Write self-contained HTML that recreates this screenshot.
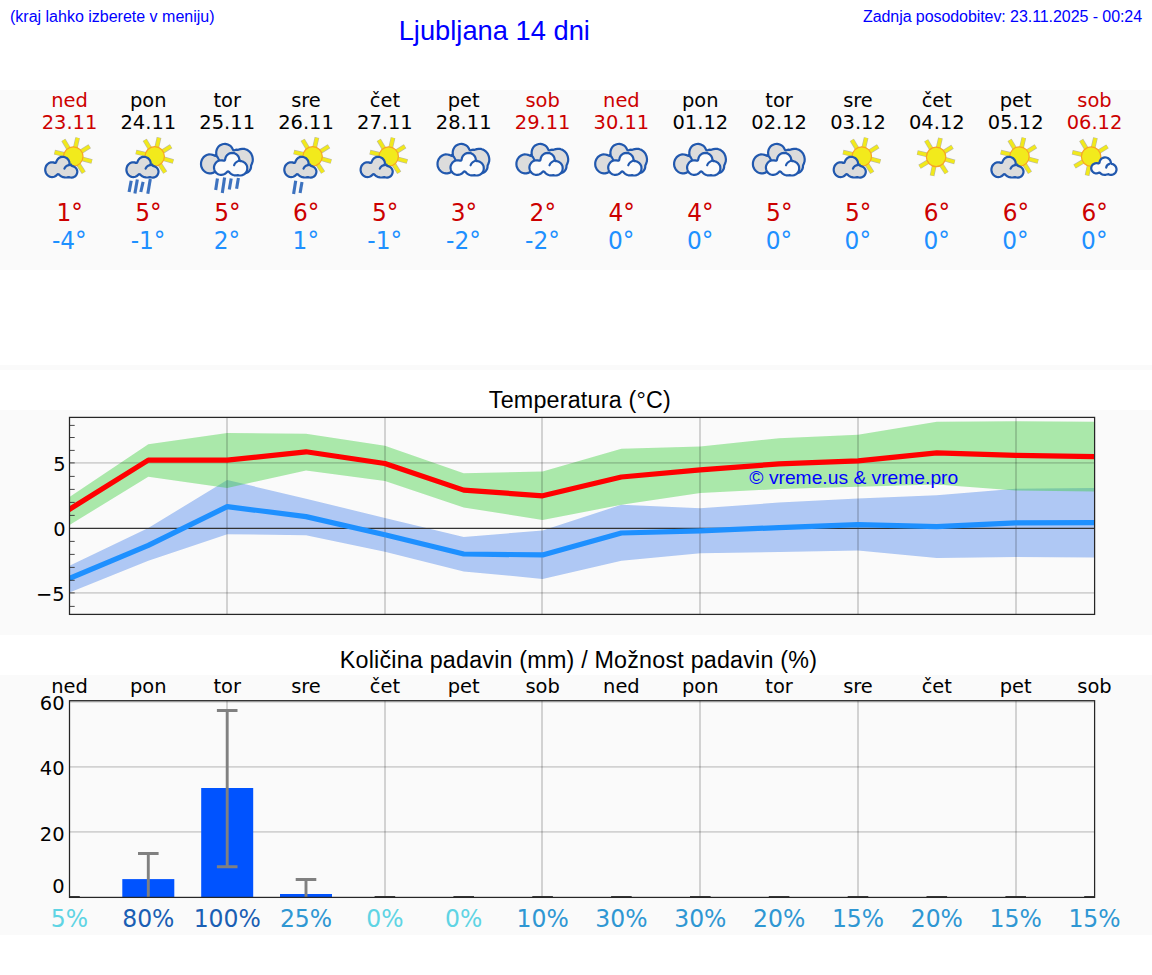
<!DOCTYPE html>
<html lang="sl"><head><meta charset="utf-8"><title>Ljubljana 14 dni</title>
<style>
html,body{margin:0;padding:0;background:#fff;}
body{width:1152px;height:975px;overflow:hidden;position:relative;}
svg{position:absolute;left:0;top:0;display:block;}
.dj{font-family:'DejaVu Sans','Liberation Sans',sans-serif;}
.ls{font-family:'Liberation Sans',sans-serif;}
.m{text-anchor:middle;}
.e{text-anchor:end;}
</style></head><body>
<svg width="1152" height="975" viewBox="0 0 1152 975">
<defs>
<g id="i-sun"><g transform="translate(29.3,21.9)"><line x1="7.21" y1="-4.50" x2="16.37" y2="-10.23" stroke="#7d7946" stroke-opacity="0.5" stroke-width="4.7"/><line x1="1.91" y1="-8.28" x2="4.34" y2="-18.81" stroke="#7d7946" stroke-opacity="0.5" stroke-width="4.7"/><line x1="-4.38" y1="-7.29" x2="-9.94" y2="-16.54" stroke="#7d7946" stroke-opacity="0.5" stroke-width="4.7"/><line x1="-8.28" y1="-1.91" x2="-18.81" y2="-4.34" stroke="#7d7946" stroke-opacity="0.5" stroke-width="4.7"/><line x1="-7.29" y1="4.38" x2="-16.54" y2="9.94" stroke="#7d7946" stroke-opacity="0.5" stroke-width="4.7"/><line x1="-1.77" y1="8.31" x2="-4.01" y2="18.88" stroke="#7d7946" stroke-opacity="0.5" stroke-width="4.7"/><line x1="4.63" y1="7.13" x2="10.51" y2="16.19" stroke="#7d7946" stroke-opacity="0.5" stroke-width="4.7"/><line x1="8.21" y1="2.20" x2="18.64" y2="5.00" stroke="#7d7946" stroke-opacity="0.5" stroke-width="4.7"/><line x1="7.21" y1="-4.50" x2="16.11" y2="-10.07" stroke="#f1e91b" stroke-width="3.4"/><line x1="1.91" y1="-8.28" x2="4.27" y2="-18.51" stroke="#f1e91b" stroke-width="3.4"/><line x1="-4.38" y1="-7.29" x2="-9.79" y2="-16.29" stroke="#f1e91b" stroke-width="3.4"/><line x1="-8.28" y1="-1.91" x2="-18.51" y2="-4.27" stroke="#f1e91b" stroke-width="3.4"/><line x1="-7.29" y1="4.38" x2="-16.29" y2="9.79" stroke="#f1e91b" stroke-width="3.4"/><line x1="-1.77" y1="8.31" x2="-3.95" y2="18.58" stroke="#f1e91b" stroke-width="3.4"/><line x1="4.63" y1="7.13" x2="10.35" y2="15.93" stroke="#f1e91b" stroke-width="3.4"/><line x1="8.21" y1="2.20" x2="18.35" y2="4.92" stroke="#f1e91b" stroke-width="3.4"/><circle cx="0" cy="0" r="9.7" fill="#f2ea1c" stroke="#f7a524" stroke-width="1.2"/></g></g>
<g id="i-pc"><g transform="translate(33.8,21.5)"><line x1="7.21" y1="-4.50" x2="16.37" y2="-10.23" stroke="#7d7946" stroke-opacity="0.5" stroke-width="4.7"/><line x1="1.91" y1="-8.28" x2="4.34" y2="-18.81" stroke="#7d7946" stroke-opacity="0.5" stroke-width="4.7"/><line x1="-4.38" y1="-7.29" x2="-9.94" y2="-16.54" stroke="#7d7946" stroke-opacity="0.5" stroke-width="4.7"/><line x1="-8.28" y1="-1.91" x2="-18.81" y2="-4.34" stroke="#7d7946" stroke-opacity="0.5" stroke-width="4.7"/><line x1="-7.29" y1="4.38" x2="-16.54" y2="9.94" stroke="#7d7946" stroke-opacity="0.5" stroke-width="4.7"/><line x1="-1.77" y1="8.31" x2="-4.01" y2="18.88" stroke="#7d7946" stroke-opacity="0.5" stroke-width="4.7"/><line x1="4.63" y1="7.13" x2="10.51" y2="16.19" stroke="#7d7946" stroke-opacity="0.5" stroke-width="4.7"/><line x1="8.21" y1="2.20" x2="18.64" y2="5.00" stroke="#7d7946" stroke-opacity="0.5" stroke-width="4.7"/><line x1="7.21" y1="-4.50" x2="16.11" y2="-10.07" stroke="#f1e91b" stroke-width="3.4"/><line x1="1.91" y1="-8.28" x2="4.27" y2="-18.51" stroke="#f1e91b" stroke-width="3.4"/><line x1="-4.38" y1="-7.29" x2="-9.79" y2="-16.29" stroke="#f1e91b" stroke-width="3.4"/><line x1="-8.28" y1="-1.91" x2="-18.51" y2="-4.27" stroke="#f1e91b" stroke-width="3.4"/><line x1="-7.29" y1="4.38" x2="-16.29" y2="9.79" stroke="#f1e91b" stroke-width="3.4"/><line x1="-1.77" y1="8.31" x2="-3.95" y2="18.58" stroke="#f1e91b" stroke-width="3.4"/><line x1="4.63" y1="7.13" x2="10.35" y2="15.93" stroke="#f1e91b" stroke-width="3.4"/><line x1="8.21" y1="2.20" x2="18.35" y2="4.92" stroke="#f1e91b" stroke-width="3.4"/><circle cx="0" cy="0" r="9.7" fill="#f2ea1c" stroke="#f7a524" stroke-width="1.2"/></g><g transform="translate(0,0)"><path d="M16.8 26.9 16.4 27.6 16.1 27.8 15.6 27.9 15.1 27.9 13.8 27.4 12.7 27.3 11.4 27.4 10.1 27.8 9.1 28.3 8.2 29.0 7.3 30.0 6.6 31.0 6.1 32.3 5.8 33.7 5.7 35.0 5.9 36.4 6.3 37.8 7.0 39.0 7.9 40.1 9.0 41.0 10.1 41.6 11.2 42.0 12.5 42.1 13.6 42.0 14.7 41.7 15.7 41.3 16.8 40.5 17.8 39.4 18.2 39.2 18.7 39.2 19.3 39.4 20.4 40.4 21.6 41.3 22.7 41.9 23.8 42.2 25.1 42.4 26.5 42.5 27.6 42.4 29.4 42.1 30.9 42.5 32.2 42.6 33.5 42.4 34.9 41.8 36.0 41.0 36.8 40.0 37.5 38.5 37.8 37.0 37.8 36.2 37.6 35.3 37.0 33.9 36.2 32.8 35.2 32.0 34.0 31.4 32.3 30.9 30.4 29.6 30.0 29.0 29.9 27.2 29.3 25.5 28.3 24.1 27.0 22.9 25.5 22.2 24.0 21.8 22.4 21.9 20.9 22.2 19.4 23.0 18.3 24.1 17.4 25.4Z" fill="#dcdcdc" stroke="#2158ae" stroke-width="2.2" stroke-linejoin="round"/><path d="M31.6 29.6 C28.6 29.9 25.6 31.6 24.9 33.7" fill="none" stroke="#2158ae" stroke-width="2.2" stroke-linecap="round"/></g></g>
<g id="i-pcr"><g transform="translate(36.4,21.4)"><line x1="7.21" y1="-4.50" x2="16.37" y2="-10.23" stroke="#7d7946" stroke-opacity="0.5" stroke-width="4.7"/><line x1="1.91" y1="-8.28" x2="4.34" y2="-18.81" stroke="#7d7946" stroke-opacity="0.5" stroke-width="4.7"/><line x1="-4.38" y1="-7.29" x2="-9.94" y2="-16.54" stroke="#7d7946" stroke-opacity="0.5" stroke-width="4.7"/><line x1="-8.28" y1="-1.91" x2="-18.81" y2="-4.34" stroke="#7d7946" stroke-opacity="0.5" stroke-width="4.7"/><line x1="-7.29" y1="4.38" x2="-16.54" y2="9.94" stroke="#7d7946" stroke-opacity="0.5" stroke-width="4.7"/><line x1="-1.77" y1="8.31" x2="-4.01" y2="18.88" stroke="#7d7946" stroke-opacity="0.5" stroke-width="4.7"/><line x1="4.63" y1="7.13" x2="10.51" y2="16.19" stroke="#7d7946" stroke-opacity="0.5" stroke-width="4.7"/><line x1="8.21" y1="2.20" x2="18.64" y2="5.00" stroke="#7d7946" stroke-opacity="0.5" stroke-width="4.7"/><line x1="7.21" y1="-4.50" x2="16.11" y2="-10.07" stroke="#f1e91b" stroke-width="3.4"/><line x1="1.91" y1="-8.28" x2="4.27" y2="-18.51" stroke="#f1e91b" stroke-width="3.4"/><line x1="-4.38" y1="-7.29" x2="-9.79" y2="-16.29" stroke="#f1e91b" stroke-width="3.4"/><line x1="-8.28" y1="-1.91" x2="-18.51" y2="-4.27" stroke="#f1e91b" stroke-width="3.4"/><line x1="-7.29" y1="4.38" x2="-16.29" y2="9.79" stroke="#f1e91b" stroke-width="3.4"/><line x1="-1.77" y1="8.31" x2="-3.95" y2="18.58" stroke="#f1e91b" stroke-width="3.4"/><line x1="4.63" y1="7.13" x2="10.35" y2="15.93" stroke="#f1e91b" stroke-width="3.4"/><line x1="8.21" y1="2.20" x2="18.35" y2="4.92" stroke="#f1e91b" stroke-width="3.4"/><circle cx="0" cy="0" r="9.7" fill="#f2ea1c" stroke="#f7a524" stroke-width="1.2"/></g><g transform="translate(2.4,0)"><path d="M16.8 26.9 16.4 27.6 16.1 27.8 15.6 27.9 15.1 27.9 13.8 27.4 12.7 27.3 11.4 27.4 10.1 27.8 9.1 28.3 8.2 29.0 7.3 30.0 6.6 31.0 6.1 32.3 5.8 33.7 5.7 35.0 5.9 36.4 6.3 37.8 7.0 39.0 7.9 40.1 9.0 41.0 10.1 41.6 11.2 42.0 12.5 42.1 13.6 42.0 14.7 41.7 15.7 41.3 16.8 40.5 17.8 39.4 18.2 39.2 18.7 39.2 19.3 39.4 20.4 40.4 21.6 41.3 22.7 41.9 23.8 42.2 25.1 42.4 26.5 42.5 27.6 42.4 29.4 42.1 30.9 42.5 32.2 42.6 33.5 42.4 34.9 41.8 36.0 41.0 36.8 40.0 37.5 38.5 37.8 37.0 37.8 36.2 37.6 35.3 37.0 33.9 36.2 32.8 35.2 32.0 34.0 31.4 32.3 30.9 30.4 29.6 30.0 29.0 29.9 27.2 29.3 25.5 28.3 24.1 27.0 22.9 25.5 22.2 24.0 21.8 22.4 21.9 20.9 22.2 19.4 23.0 18.3 24.1 17.4 25.4Z" fill="#dcdcdc" stroke="#2158ae" stroke-width="2.2" stroke-linejoin="round"/><path d="M31.6 29.6 C28.6 29.9 25.6 31.6 24.9 33.7" fill="none" stroke="#2158ae" stroke-width="2.2" stroke-linecap="round"/></g><line x1="12.9" y1="45.8" x2="10.8" y2="57.0" stroke="#3d72bf" stroke-width="3.1"/><line x1="19.05" y1="44.4" x2="16.6" y2="58.4" stroke="#3d72bf" stroke-width="3.1"/><line x1="24.8" y1="46.9" x2="22.5" y2="57.0" stroke="#3d72bf" stroke-width="3.1"/><line x1="32.0" y1="43.9" x2="29.5" y2="58.7" stroke="#3d72bf" stroke-width="3.1"/></g>
<g id="i-pcr1"><g transform="translate(36.6,21.4)"><line x1="7.21" y1="-4.50" x2="16.37" y2="-10.23" stroke="#7d7946" stroke-opacity="0.5" stroke-width="4.7"/><line x1="1.91" y1="-8.28" x2="4.34" y2="-18.81" stroke="#7d7946" stroke-opacity="0.5" stroke-width="4.7"/><line x1="-4.38" y1="-7.29" x2="-9.94" y2="-16.54" stroke="#7d7946" stroke-opacity="0.5" stroke-width="4.7"/><line x1="-8.28" y1="-1.91" x2="-18.81" y2="-4.34" stroke="#7d7946" stroke-opacity="0.5" stroke-width="4.7"/><line x1="-7.29" y1="4.38" x2="-16.54" y2="9.94" stroke="#7d7946" stroke-opacity="0.5" stroke-width="4.7"/><line x1="-1.77" y1="8.31" x2="-4.01" y2="18.88" stroke="#7d7946" stroke-opacity="0.5" stroke-width="4.7"/><line x1="4.63" y1="7.13" x2="10.51" y2="16.19" stroke="#7d7946" stroke-opacity="0.5" stroke-width="4.7"/><line x1="8.21" y1="2.20" x2="18.64" y2="5.00" stroke="#7d7946" stroke-opacity="0.5" stroke-width="4.7"/><line x1="7.21" y1="-4.50" x2="16.11" y2="-10.07" stroke="#f1e91b" stroke-width="3.4"/><line x1="1.91" y1="-8.28" x2="4.27" y2="-18.51" stroke="#f1e91b" stroke-width="3.4"/><line x1="-4.38" y1="-7.29" x2="-9.79" y2="-16.29" stroke="#f1e91b" stroke-width="3.4"/><line x1="-8.28" y1="-1.91" x2="-18.51" y2="-4.27" stroke="#f1e91b" stroke-width="3.4"/><line x1="-7.29" y1="4.38" x2="-16.29" y2="9.79" stroke="#f1e91b" stroke-width="3.4"/><line x1="-1.77" y1="8.31" x2="-3.95" y2="18.58" stroke="#f1e91b" stroke-width="3.4"/><line x1="4.63" y1="7.13" x2="10.35" y2="15.93" stroke="#f1e91b" stroke-width="3.4"/><line x1="8.21" y1="2.20" x2="18.35" y2="4.92" stroke="#f1e91b" stroke-width="3.4"/><circle cx="0" cy="0" r="9.7" fill="#f2ea1c" stroke="#f7a524" stroke-width="1.2"/></g><g transform="translate(2.6,0)"><path d="M16.8 26.9 16.4 27.6 16.1 27.8 15.6 27.9 15.1 27.9 13.8 27.4 12.7 27.3 11.4 27.4 10.1 27.8 9.1 28.3 8.2 29.0 7.3 30.0 6.6 31.0 6.1 32.3 5.8 33.7 5.7 35.0 5.9 36.4 6.3 37.8 7.0 39.0 7.9 40.1 9.0 41.0 10.1 41.6 11.2 42.0 12.5 42.1 13.6 42.0 14.7 41.7 15.7 41.3 16.8 40.5 17.8 39.4 18.2 39.2 18.7 39.2 19.3 39.4 20.4 40.4 21.6 41.3 22.7 41.9 23.8 42.2 25.1 42.4 26.5 42.5 27.6 42.4 29.4 42.1 30.9 42.5 32.2 42.6 33.5 42.4 34.9 41.8 36.0 41.0 36.8 40.0 37.5 38.5 37.8 37.0 37.8 36.2 37.6 35.3 37.0 33.9 36.2 32.8 35.2 32.0 34.0 31.4 32.3 30.9 30.4 29.6 30.0 29.0 29.9 27.2 29.3 25.5 28.3 24.1 27.0 22.9 25.5 22.2 24.0 21.8 22.4 21.9 20.9 22.2 19.4 23.0 18.3 24.1 17.4 25.4Z" fill="#dcdcdc" stroke="#2158ae" stroke-width="2.2" stroke-linejoin="round"/><path d="M31.6 29.6 C28.6 29.9 25.6 31.6 24.9 33.7" fill="none" stroke="#2158ae" stroke-width="2.2" stroke-linecap="round"/></g><line x1="19.7" y1="45.8" x2="17.6" y2="59.0" stroke="#3d72bf" stroke-width="3.1"/><line x1="26.0" y1="46.9" x2="24.1" y2="58.0" stroke="#3d72bf" stroke-width="3.1"/></g>
<g id="i-ov"><g transform="translate(0,0)"><path d="M19.0 17.5 19.2 19.8 19.0 20.3 18.6 20.7 18.0 20.8 17.5 20.7 15.4 19.8 13.9 19.5 11.9 19.4 10.2 19.8 8.6 20.5 7.3 21.4 6.2 22.4 5.2 23.8 4.4 25.5 3.9 27.3 3.8 29.2 4.0 31.1 4.6 32.8 5.5 34.5 6.9 36.0 8.3 37.1 9.6 37.8 11.0 38.2 12.2 38.4 13.7 38.4 15.7 37.9 17.3 37.1 18.9 35.9 20.3 34.3 20.9 33.9 21.5 34.0 23.7 34.9 25.7 35.4 28.3 35.8 30.4 35.9 32.6 35.7 34.7 35.4 36.6 34.8 38.8 33.8 39.3 33.7 39.8 33.8 40.2 34.0 41.0 35.3 41.6 36.0 42.3 36.7 43.2 37.3 44.3 37.8 45.2 38.1 46.3 38.3 47.3 38.3 48.2 38.2 49.1 37.9 50.1 37.5 50.9 37.0 51.7 36.4 52.3 35.7 52.8 34.9 53.4 33.9 53.8 32.4 53.9 30.5 54.9 28.3 55.5 26.3 55.6 24.2 55.3 22.1 55.0 21.0 54.5 19.8 53.9 18.6 53.3 17.7 52.4 16.7 51.3 15.8 50.5 15.2 49.3 14.6 48.3 14.3 47.1 13.9 45.0 13.8 43.1 14.1 41.0 14.8 39.0 14.7 38.1 14.9 37.2 15.3 36.5 15.3 36.1 15.1 35.8 14.8 35.0 13.2 34.1 11.8 33.1 10.9 32.1 10.2 30.6 9.5 29.3 9.1 27.9 8.9 26.2 9.0 24.6 9.5 23.0 10.2 21.5 11.4 20.5 12.7 19.7 14.2 19.2 15.8Z" fill="#dcdcdc" stroke="#2158ae" stroke-width="2.2" stroke-linejoin="round"/></g><path d="M18.2 20.0 A9 9.5 0 0 1 22.0 25.2" fill="none" stroke="#2158ae" stroke-width="2.2" stroke-linecap="round"/><g transform="translate(0,0)"><path d="M28.3 22.7 27.8 24.9 27.6 25.3 27.2 25.6 26.9 25.7 26.4 25.7 24.9 25.4 23.7 25.3 22.4 25.5 21.0 25.9 20.0 26.5 19.1 27.3 18.3 28.2 17.7 29.2 17.1 30.5 16.8 31.9 16.8 33.1 17.1 34.5 17.5 35.8 18.3 37.1 19.3 38.1 20.4 38.9 21.7 39.5 22.8 39.8 24.2 39.9 25.6 39.7 26.8 39.3 27.8 38.8 28.9 37.9 30.1 36.7 30.4 36.5 31.0 36.4 31.7 36.7 32.8 38.0 33.8 38.9 34.9 39.5 36.0 40.0 37.0 40.3 38.1 40.4 39.4 40.4 40.7 40.2 42.3 40.5 43.5 40.5 45.3 40.1 46.7 39.4 48.0 38.4 49.1 36.9 49.6 36.1 49.9 35.2 50.0 34.2 50.1 33.3 50.0 32.4 49.9 31.4 49.6 30.5 49.1 29.7 48.6 28.9 48.0 28.2 47.3 27.6 46.5 27.1 45.3 26.5 44.4 26.2 43.1 26.1 42.5 25.7 42.1 25.1 42.0 23.8 41.8 22.9 41.2 21.5 40.6 20.7 40.0 20.0 39.3 19.4 38.6 18.9 36.9 18.1 35.2 17.9 33.4 18.1 32.5 18.4 31.7 18.7 30.2 19.8 29.1 21.1Z" fill="#fbfbfb" stroke="#2158ae" stroke-width="2.2" stroke-linejoin="round"/><path d="M43.0 25.5 C40.2 26.0 37.6 28.0 36.9 30.3" fill="none" stroke="#2158ae" stroke-width="2.2" stroke-linecap="round"/></g></g>
<g id="i-ovr"><g transform="translate(0,0)"><path d="M19.0 17.5 19.2 19.8 19.0 20.3 18.6 20.7 18.0 20.8 17.5 20.7 15.4 19.8 13.9 19.5 11.9 19.4 10.2 19.8 8.6 20.5 7.3 21.4 6.2 22.4 5.2 23.8 4.4 25.5 3.9 27.3 3.8 29.2 4.0 31.1 4.6 32.8 5.5 34.5 6.9 36.0 8.3 37.1 9.6 37.8 11.0 38.2 12.2 38.4 13.7 38.4 15.7 37.9 17.3 37.1 18.9 35.9 20.3 34.3 20.9 33.9 21.5 34.0 23.7 34.9 25.7 35.4 28.3 35.8 30.4 35.9 32.6 35.7 34.7 35.4 36.6 34.8 38.8 33.8 39.3 33.7 39.8 33.8 40.2 34.0 41.0 35.3 41.6 36.0 42.3 36.7 43.2 37.3 44.3 37.8 45.2 38.1 46.3 38.3 47.3 38.3 48.2 38.2 49.1 37.9 50.1 37.5 50.9 37.0 51.7 36.4 52.3 35.7 52.8 34.9 53.4 33.9 53.8 32.4 53.9 30.5 54.9 28.3 55.5 26.3 55.6 24.2 55.3 22.1 55.0 21.0 54.5 19.8 53.9 18.6 53.3 17.7 52.4 16.7 51.3 15.8 50.5 15.2 49.3 14.6 48.3 14.3 47.1 13.9 45.0 13.8 43.1 14.1 41.0 14.8 39.0 14.7 38.1 14.9 37.2 15.3 36.5 15.3 36.1 15.1 35.8 14.8 35.0 13.2 34.1 11.8 33.1 10.9 32.1 10.2 30.6 9.5 29.3 9.1 27.9 8.9 26.2 9.0 24.6 9.5 23.0 10.2 21.5 11.4 20.5 12.7 19.7 14.2 19.2 15.8Z" fill="#dcdcdc" stroke="#2158ae" stroke-width="2.2" stroke-linejoin="round"/></g><path d="M18.2 20.0 A9 9.5 0 0 1 22.0 25.2" fill="none" stroke="#2158ae" stroke-width="2.2" stroke-linecap="round"/><g transform="translate(0,0)"><path d="M28.3 22.7 27.8 24.9 27.6 25.3 27.2 25.6 26.9 25.7 26.4 25.7 24.9 25.4 23.7 25.3 22.4 25.5 21.0 25.9 20.0 26.5 19.1 27.3 18.3 28.2 17.7 29.2 17.1 30.5 16.8 31.9 16.8 33.1 17.1 34.5 17.5 35.8 18.3 37.1 19.3 38.1 20.4 38.9 21.7 39.5 22.8 39.8 24.2 39.9 25.6 39.7 26.8 39.3 27.8 38.8 28.9 37.9 30.1 36.7 30.4 36.5 31.0 36.4 31.7 36.7 32.8 38.0 33.8 38.9 34.9 39.5 36.0 40.0 37.0 40.3 38.1 40.4 39.4 40.4 40.7 40.2 42.3 40.5 43.5 40.5 45.3 40.1 46.7 39.4 48.0 38.4 49.1 36.9 49.6 36.1 49.9 35.2 50.0 34.2 50.1 33.3 50.0 32.4 49.9 31.4 49.6 30.5 49.1 29.7 48.6 28.9 48.0 28.2 47.3 27.6 46.5 27.1 45.3 26.5 44.4 26.2 43.1 26.1 42.5 25.7 42.1 25.1 42.0 23.8 41.8 22.9 41.2 21.5 40.6 20.7 40.0 20.0 39.3 19.4 38.6 18.9 36.9 18.1 35.2 17.9 33.4 18.1 32.5 18.4 31.7 18.7 30.2 19.8 29.1 21.1Z" fill="#fbfbfb" stroke="#2158ae" stroke-width="2.2" stroke-linejoin="round"/><path d="M43.0 25.5 C40.2 26.0 37.6 28.0 36.9 30.3" fill="none" stroke="#2158ae" stroke-width="2.2" stroke-linecap="round"/></g><line x1="20.25" y1="43.4" x2="18.5" y2="54.9" stroke="#3d72bf" stroke-width="3.1"/><line x1="27.4" y1="42.6" x2="25.1" y2="58.0" stroke="#3d72bf" stroke-width="3.1"/><line x1="34.0" y1="43.4" x2="32.1" y2="54.5" stroke="#3d72bf" stroke-width="3.1"/><line x1="41.2" y1="43.0" x2="39.4" y2="53.8" stroke="#3d72bf" stroke-width="3.1"/></g>
<g id="i-suncl"><g transform="translate(26.6,21.6)"><line x1="7.21" y1="-4.50" x2="16.37" y2="-10.23" stroke="#7d7946" stroke-opacity="0.5" stroke-width="4.7"/><line x1="1.91" y1="-8.28" x2="4.34" y2="-18.81" stroke="#7d7946" stroke-opacity="0.5" stroke-width="4.7"/><line x1="-4.38" y1="-7.29" x2="-9.94" y2="-16.54" stroke="#7d7946" stroke-opacity="0.5" stroke-width="4.7"/><line x1="-8.28" y1="-1.91" x2="-18.81" y2="-4.34" stroke="#7d7946" stroke-opacity="0.5" stroke-width="4.7"/><line x1="-7.29" y1="4.38" x2="-16.54" y2="9.94" stroke="#7d7946" stroke-opacity="0.5" stroke-width="4.7"/><line x1="-1.77" y1="8.31" x2="-4.01" y2="18.88" stroke="#7d7946" stroke-opacity="0.5" stroke-width="4.7"/><line x1="4.63" y1="7.13" x2="10.51" y2="16.19" stroke="#7d7946" stroke-opacity="0.5" stroke-width="4.7"/><line x1="8.21" y1="2.20" x2="18.64" y2="5.00" stroke="#7d7946" stroke-opacity="0.5" stroke-width="4.7"/><line x1="7.21" y1="-4.50" x2="16.11" y2="-10.07" stroke="#f1e91b" stroke-width="3.4"/><line x1="1.91" y1="-8.28" x2="4.27" y2="-18.51" stroke="#f1e91b" stroke-width="3.4"/><line x1="-4.38" y1="-7.29" x2="-9.79" y2="-16.29" stroke="#f1e91b" stroke-width="3.4"/><line x1="-8.28" y1="-1.91" x2="-18.51" y2="-4.27" stroke="#f1e91b" stroke-width="3.4"/><line x1="-7.29" y1="4.38" x2="-16.29" y2="9.79" stroke="#f1e91b" stroke-width="3.4"/><line x1="-1.77" y1="8.31" x2="-3.95" y2="18.58" stroke="#f1e91b" stroke-width="3.4"/><line x1="4.63" y1="7.13" x2="10.35" y2="15.93" stroke="#f1e91b" stroke-width="3.4"/><line x1="8.21" y1="2.20" x2="18.35" y2="4.92" stroke="#f1e91b" stroke-width="3.4"/><circle cx="0" cy="0" r="9.7" fill="#f2ea1c" stroke="#f7a524" stroke-width="1.2"/></g><g transform="translate(0,0)"><path d="M32.8 38.3 34.8 37.6 35.3 37.7 35.6 37.9 36.5 38.7 37.3 39.2 38.4 39.6 39.3 39.8 40.3 39.9 41.3 39.8 43.6 39.2 44.0 39.2 45.1 39.7 45.9 39.9 47.0 39.9 48.0 39.7 49.0 39.3 49.9 38.8 50.7 38.0 51.3 37.2 51.7 36.2 52.0 35.1 52.0 34.0 51.8 33.0 51.2 31.5 50.1 30.2 49.0 29.5 48.2 29.1 47.2 28.9 46.7 28.5 46.5 28.1 46.2 26.6 45.8 25.6 45.2 24.6 44.3 23.7 43.2 23.0 41.8 22.5 40.5 22.4 39.2 22.6 38.4 22.9 37.5 23.4 36.9 23.8 36.3 24.5 35.5 25.7 35.2 26.6 35.0 27.7 34.5 28.2 34.2 28.4 33.8 28.5 32.4 28.2 31.3 28.2 30.5 28.4 29.7 28.7 28.8 29.2 28.0 29.9 27.4 30.7 27.0 31.7 26.7 33.1 26.9 34.6 27.2 35.4 27.6 36.1 28.6 37.2 29.8 38.0 31.3 38.4Z" fill="#fbfbfb" stroke="#2158ae" stroke-width="2.2" stroke-linejoin="round"/><path d="M45.0 28.9 C43.2 29.4 41.9 30.8 41.7 32.6" fill="none" stroke="#2158ae" stroke-width="2.2" stroke-linecap="round"/></g></g>

<clipPath id="cT"><rect x="69.5" y="417.4" width="1025.0" height="197"/></clipPath>
<clipPath id="cP"><rect x="69.5" y="700.7" width="1025.0" height="196.7"/></clipPath>
</defs>
<rect x="0" y="90" width="1152" height="180" fill="#fafafa"/>
<rect x="0" y="365" width="1152" height="5" fill="#fafafa"/>
<rect x="0" y="410" width="1152" height="225" fill="#fafafa"/>
<rect x="0" y="675" width="1152" height="260" fill="#fafafa"/>
<text class="ls" x="10" y="22" font-size="16" fill="#0000ff">(kraj lahko izberete v meniju)</text>
<text class="ls m" x="494.3" y="39.5" font-size="27.3" fill="#0000ff">Ljubljana 14 dni</text>
<text class="ls e" x="1142" y="22" font-size="16" letter-spacing="-0.07" fill="#0000ff">Zadnja posodobitev: 23.11.2025 - 00:24</text>
<text class="dj m" x="69.5" y="107" font-size="19.44" fill="#cc0000">ned</text>
<text class="dj m" x="69.5" y="129" font-size="19.44" fill="#cc0000">23.11</text>
<use href="#i-pc" x="39.5" y="135"/>
<text class="dj m" transform="translate(69.7 221) scale(0.93 1)" font-size="25" fill="#cc0000">1°</text>
<text class="dj m" transform="translate(69.3 249) scale(0.93 1)" font-size="25" fill="#1e90ff">-4°</text>
<text class="dj m" x="148.3" y="107" font-size="19.44" fill="#000">pon</text>
<text class="dj m" x="148.3" y="129" font-size="19.44" fill="#000">24.11</text>
<use href="#i-pcr" x="118.3" y="135"/>
<text class="dj m" transform="translate(148.5 221) scale(0.93 1)" font-size="25" fill="#cc0000">5°</text>
<text class="dj m" transform="translate(148.1 249) scale(0.93 1)" font-size="25" fill="#1e90ff">-1°</text>
<text class="dj m" x="227.2" y="107" font-size="19.44" fill="#000">tor</text>
<text class="dj m" x="227.2" y="129" font-size="19.44" fill="#000">25.11</text>
<use href="#i-ovr" x="197.2" y="135"/>
<text class="dj m" transform="translate(227.4 221) scale(0.93 1)" font-size="25" fill="#cc0000">5°</text>
<text class="dj m" transform="translate(227.0 249) scale(0.93 1)" font-size="25" fill="#1e90ff">2°</text>
<text class="dj m" x="306.0" y="107" font-size="19.44" fill="#000">sre</text>
<text class="dj m" x="306.0" y="129" font-size="19.44" fill="#000">26.11</text>
<use href="#i-pcr1" x="276.0" y="135"/>
<text class="dj m" transform="translate(306.2 221) scale(0.93 1)" font-size="25" fill="#cc0000">6°</text>
<text class="dj m" transform="translate(305.8 249) scale(0.93 1)" font-size="25" fill="#1e90ff">1°</text>
<text class="dj m" x="384.9" y="107" font-size="19.44" fill="#000">čet</text>
<text class="dj m" x="384.9" y="129" font-size="19.44" fill="#000">27.11</text>
<use href="#i-pc" x="354.9" y="135"/>
<text class="dj m" transform="translate(385.1 221) scale(0.93 1)" font-size="25" fill="#cc0000">5°</text>
<text class="dj m" transform="translate(384.7 249) scale(0.93 1)" font-size="25" fill="#1e90ff">-1°</text>
<text class="dj m" x="463.7" y="107" font-size="19.44" fill="#000">pet</text>
<text class="dj m" x="463.7" y="129" font-size="19.44" fill="#000">28.11</text>
<use href="#i-ov" x="433.7" y="135"/>
<text class="dj m" transform="translate(463.9 221) scale(0.93 1)" font-size="25" fill="#cc0000">3°</text>
<text class="dj m" transform="translate(463.5 249) scale(0.93 1)" font-size="25" fill="#1e90ff">-2°</text>
<text class="dj m" x="542.6" y="107" font-size="19.44" fill="#cc0000">sob</text>
<text class="dj m" x="542.6" y="129" font-size="19.44" fill="#cc0000">29.11</text>
<use href="#i-ov" x="512.6" y="135"/>
<text class="dj m" transform="translate(542.8 221) scale(0.93 1)" font-size="25" fill="#cc0000">2°</text>
<text class="dj m" transform="translate(542.4 249) scale(0.93 1)" font-size="25" fill="#1e90ff">-2°</text>
<text class="dj m" x="621.4" y="107" font-size="19.44" fill="#cc0000">ned</text>
<text class="dj m" x="621.4" y="129" font-size="19.44" fill="#cc0000">30.11</text>
<use href="#i-ov" x="591.4" y="135"/>
<text class="dj m" transform="translate(621.6 221) scale(0.93 1)" font-size="25" fill="#cc0000">4°</text>
<text class="dj m" transform="translate(621.2 249) scale(0.93 1)" font-size="25" fill="#1e90ff">0°</text>
<text class="dj m" x="700.3" y="107" font-size="19.44" fill="#000">pon</text>
<text class="dj m" x="700.3" y="129" font-size="19.44" fill="#000">01.12</text>
<use href="#i-ov" x="670.3" y="135"/>
<text class="dj m" transform="translate(700.5 221) scale(0.93 1)" font-size="25" fill="#cc0000">4°</text>
<text class="dj m" transform="translate(700.1 249) scale(0.93 1)" font-size="25" fill="#1e90ff">0°</text>
<text class="dj m" x="779.1" y="107" font-size="19.44" fill="#000">tor</text>
<text class="dj m" x="779.1" y="129" font-size="19.44" fill="#000">02.12</text>
<use href="#i-ov" x="749.1" y="135"/>
<text class="dj m" transform="translate(779.3 221) scale(0.93 1)" font-size="25" fill="#cc0000">5°</text>
<text class="dj m" transform="translate(778.9 249) scale(0.93 1)" font-size="25" fill="#1e90ff">0°</text>
<text class="dj m" x="858.0" y="107" font-size="19.44" fill="#000">sre</text>
<text class="dj m" x="858.0" y="129" font-size="19.44" fill="#000">03.12</text>
<use href="#i-pc" x="828.0" y="135"/>
<text class="dj m" transform="translate(858.2 221) scale(0.93 1)" font-size="25" fill="#cc0000">5°</text>
<text class="dj m" transform="translate(857.8 249) scale(0.93 1)" font-size="25" fill="#1e90ff">0°</text>
<text class="dj m" x="936.8" y="107" font-size="19.44" fill="#000">čet</text>
<text class="dj m" x="936.8" y="129" font-size="19.44" fill="#000">04.12</text>
<use href="#i-sun" x="906.8" y="135"/>
<text class="dj m" transform="translate(937.0 221) scale(0.93 1)" font-size="25" fill="#cc0000">6°</text>
<text class="dj m" transform="translate(936.6 249) scale(0.93 1)" font-size="25" fill="#1e90ff">0°</text>
<text class="dj m" x="1015.7" y="107" font-size="19.44" fill="#000">pet</text>
<text class="dj m" x="1015.7" y="129" font-size="19.44" fill="#000">05.12</text>
<use href="#i-pc" x="985.7" y="135"/>
<text class="dj m" transform="translate(1015.9 221) scale(0.93 1)" font-size="25" fill="#cc0000">6°</text>
<text class="dj m" transform="translate(1015.5 249) scale(0.93 1)" font-size="25" fill="#1e90ff">0°</text>
<text class="dj m" x="1094.5" y="107" font-size="19.44" fill="#cc0000">sob</text>
<text class="dj m" x="1094.5" y="129" font-size="19.44" fill="#cc0000">06.12</text>
<use href="#i-suncl" x="1064.5" y="135"/>
<text class="dj m" transform="translate(1094.7 221) scale(0.93 1)" font-size="25" fill="#cc0000">6°</text>
<text class="dj m" transform="translate(1094.3 249) scale(0.93 1)" font-size="25" fill="#1e90ff">0°</text>
<text class="ls m" x="579.9" y="407.6" font-size="23.3" letter-spacing="0.2" fill="#000">Temperatura (°C)</text>
<g clip-path="url(#cT)">
<polygon points="69.5,565.7 148.3,528.0 227.2,480.0 306.0,498.8 384.9,517.9 463.7,537.1 542.6,530.4 621.4,504.8 700.3,508.2 779.1,502.6 858.0,498.5 936.8,495.3 1015.7,488.8 1094.5,488.0 1094.5,557.5 1015.7,557.1 936.8,557.9 858.0,550.4 779.1,552.0 700.3,553.3 621.4,560.8 542.6,578.9 463.7,571.4 384.9,551.8 306.0,535.3 227.2,534.2 148.3,560.8 69.5,592.4" fill="#6495ed" fill-opacity="0.5"/>
<polygon points="69.5,496.9 148.3,444.3 227.2,433.0 306.0,433.7 384.9,445.7 463.7,473.2 542.6,471.4 621.4,448.8 700.3,446.6 779.1,438.2 858.0,434.8 936.8,421.7 1015.7,421.2 1094.5,421.8 1094.5,491.4 1015.7,490.5 936.8,484.5 858.0,486.8 779.1,489.0 700.3,493.1 621.4,504.8 542.6,519.9 463.7,507.5 384.9,481.1 306.0,470.4 227.2,487.9 148.3,476.8 69.5,525.0" fill="#32cd32" fill-opacity="0.4"/>
<line x1="227" y1="417" x2="227" y2="614" stroke="#000" stroke-opacity="0.155" stroke-width="2"/>
<line x1="385" y1="417" x2="385" y2="614" stroke="#000" stroke-opacity="0.155" stroke-width="2"/>
<line x1="542" y1="417" x2="542" y2="614" stroke="#000" stroke-opacity="0.155" stroke-width="2"/>
<line x1="700" y1="417" x2="700" y2="614" stroke="#000" stroke-opacity="0.155" stroke-width="2"/>
<line x1="858" y1="417" x2="858" y2="614" stroke="#000" stroke-opacity="0.155" stroke-width="2"/>
<line x1="1016" y1="417" x2="1016" y2="614" stroke="#000" stroke-opacity="0.155" stroke-width="2"/>
<line x1="69.5" y1="462.9" x2="1094.5" y2="462.9" stroke="#000" stroke-opacity="0.155" stroke-width="1.9"/>
<line x1="69.5" y1="592.9" x2="1094.5" y2="592.9" stroke="#000" stroke-opacity="0.155" stroke-width="1.9"/>
<line x1="69.5" y1="528.4" x2="1094.5" y2="528.4" stroke="#333" stroke-width="1.3"/>
<polyline points="69.5,509.3 148.3,460.1 227.2,460.1 306.0,451.8 384.9,463.5 463.7,490.1 542.6,495.8 621.4,477.0 700.3,469.8 779.1,463.9 858.0,460.8 936.8,452.9 1015.7,455.4 1094.5,456.7" fill="none" stroke="#ff0000" stroke-width="5.2" stroke-linejoin="round" stroke-linecap="square"/>
<polyline points="69.5,578.4 148.3,545.4 227.2,506.6 306.0,516.6 384.9,534.8 463.7,554.0 542.6,554.9 621.4,533.0 700.3,530.8 779.1,527.6 858.0,524.7 936.8,526.7 1015.7,522.8 1094.5,522.6" fill="none" stroke="#1e90ff" stroke-width="5.2" stroke-linejoin="round" stroke-linecap="square"/>
</g>
<line x1="69.5" y1="425.4" x2="74.7" y2="425.4" stroke="#333" stroke-width="0.9"/>
<line x1="69.5" y1="437.5" x2="74.7" y2="437.5" stroke="#333" stroke-width="0.9"/>
<line x1="69.5" y1="450.4" x2="74.7" y2="450.4" stroke="#333" stroke-width="0.9"/>
<line x1="69.5" y1="462.9" x2="74.7" y2="462.9" stroke="#333" stroke-width="0.9"/>
<line x1="69.5" y1="476.4" x2="74.7" y2="476.4" stroke="#333" stroke-width="0.9"/>
<line x1="69.5" y1="489.4" x2="74.7" y2="489.4" stroke="#333" stroke-width="0.9"/>
<line x1="69.5" y1="502.4" x2="74.7" y2="502.4" stroke="#333" stroke-width="0.9"/>
<line x1="69.5" y1="515.4" x2="74.7" y2="515.4" stroke="#333" stroke-width="0.9"/>
<line x1="69.5" y1="541.4" x2="74.7" y2="541.4" stroke="#333" stroke-width="0.9"/>
<line x1="69.5" y1="554.4" x2="74.7" y2="554.4" stroke="#333" stroke-width="0.9"/>
<line x1="69.5" y1="567.4" x2="74.7" y2="567.4" stroke="#333" stroke-width="0.9"/>
<line x1="69.5" y1="580.3" x2="74.7" y2="580.3" stroke="#333" stroke-width="0.9"/>
<line x1="69.5" y1="592.9" x2="74.7" y2="592.9" stroke="#333" stroke-width="0.9"/>
<line x1="69.5" y1="606.4" x2="74.7" y2="606.4" stroke="#333" stroke-width="0.9"/>
<rect x="69.5" y="417.4" width="1025.1" height="197" fill="none" stroke="#262626" stroke-width="1.25"/>
<text class="dj e" x="65.5" y="471.4" font-size="19.44" fill="#000">5</text>
<text class="dj e" x="65.5" y="536.4" font-size="19.44" fill="#000">0</text>
<text class="dj e" x="64.7" y="601.3" font-size="19.44" fill="#000">−5</text>
<text class="ls m" x="853.8" y="483.6" font-size="19.25" fill="#0000ff">© vreme.us &amp; vreme.pro</text>
<text class="ls m" x="578.5" y="667.8" font-size="23.3" letter-spacing="0.2" fill="#000">Količina padavin (mm) / Možnost padavin (%)</text>
<text class="dj m" x="69.5" y="693" font-size="19.44" fill="#000">ned</text>
<text class="dj m" x="148.3" y="693" font-size="19.44" fill="#000">pon</text>
<text class="dj m" x="227.2" y="693" font-size="19.44" fill="#000">tor</text>
<text class="dj m" x="306.0" y="693" font-size="19.44" fill="#000">sre</text>
<text class="dj m" x="384.9" y="693" font-size="19.44" fill="#000">čet</text>
<text class="dj m" x="463.7" y="693" font-size="19.44" fill="#000">pet</text>
<text class="dj m" x="542.6" y="693" font-size="19.44" fill="#000">sob</text>
<text class="dj m" x="621.4" y="693" font-size="19.44" fill="#000">ned</text>
<text class="dj m" x="700.3" y="693" font-size="19.44" fill="#000">pon</text>
<text class="dj m" x="779.1" y="693" font-size="19.44" fill="#000">tor</text>
<text class="dj m" x="858.0" y="693" font-size="19.44" fill="#000">sre</text>
<text class="dj m" x="936.8" y="693" font-size="19.44" fill="#000">čet</text>
<text class="dj m" x="1015.7" y="693" font-size="19.44" fill="#000">pet</text>
<text class="dj m" x="1094.5" y="693" font-size="19.44" fill="#000">sob</text>
<g clip-path="url(#cP)">
<line x1="227" y1="700" x2="227" y2="897" stroke="#000" stroke-opacity="0.155" stroke-width="2"/>
<line x1="385" y1="700" x2="385" y2="897" stroke="#000" stroke-opacity="0.155" stroke-width="2"/>
<line x1="542" y1="700" x2="542" y2="897" stroke="#000" stroke-opacity="0.155" stroke-width="2"/>
<line x1="700" y1="700" x2="700" y2="897" stroke="#000" stroke-opacity="0.155" stroke-width="2"/>
<line x1="858" y1="700" x2="858" y2="897" stroke="#000" stroke-opacity="0.155" stroke-width="2"/>
<line x1="1016" y1="700" x2="1016" y2="897" stroke="#000" stroke-opacity="0.155" stroke-width="2"/>
<line x1="69.5" y1="701.9" x2="1094.5" y2="701.9" stroke="#000" stroke-opacity="0.155" stroke-width="1.9"/>
<line x1="69.5" y1="766.9" x2="1094.5" y2="766.9" stroke="#000" stroke-opacity="0.155" stroke-width="1.9"/>
<line x1="69.5" y1="831.9" x2="1094.5" y2="831.9" stroke="#000" stroke-opacity="0.155" stroke-width="1.9"/>
<rect x="122.3" y="879.1" width="52" height="18.3" fill="#0053ff"/>
<rect x="201.2" y="788.0" width="52" height="109.4" fill="#0053ff"/>
<rect x="280.0" y="894.0" width="52" height="3.4" fill="#0053ff"/>
<line x1="59.2" y1="897.4" x2="79.8" y2="897.4" stroke="#3a3a3a" stroke-width="3"/>
<line x1="148.3" y1="853.5" x2="148.3" y2="900" stroke="#808080" stroke-width="2.9"/>
<line x1="138.0" y1="853.5" x2="158.6" y2="853.5" stroke="#808080" stroke-width="3"/>
<line x1="227.2" y1="710.5" x2="227.2" y2="866.7" stroke="#808080" stroke-width="2.9"/>
<line x1="216.9" y1="710.5" x2="237.5" y2="710.5" stroke="#808080" stroke-width="3"/>
<line x1="216.9" y1="866.7" x2="237.5" y2="866.7" stroke="#808080" stroke-width="3"/>
<line x1="306.0" y1="879.6" x2="306.0" y2="900" stroke="#808080" stroke-width="2.9"/>
<line x1="295.7" y1="879.6" x2="316.3" y2="879.6" stroke="#808080" stroke-width="3"/>
<line x1="374.6" y1="897.4" x2="395.2" y2="897.4" stroke="#3a3a3a" stroke-width="3"/>
<line x1="453.4" y1="897.4" x2="474.0" y2="897.4" stroke="#3a3a3a" stroke-width="3"/>
<line x1="532.3" y1="897.4" x2="552.9" y2="897.4" stroke="#3a3a3a" stroke-width="3"/>
<line x1="611.1" y1="897.4" x2="631.7" y2="897.4" stroke="#3a3a3a" stroke-width="3"/>
<line x1="690.0" y1="897.4" x2="710.6" y2="897.4" stroke="#3a3a3a" stroke-width="3"/>
<line x1="768.8" y1="897.4" x2="789.4" y2="897.4" stroke="#3a3a3a" stroke-width="3"/>
<line x1="847.7" y1="897.4" x2="868.3" y2="897.4" stroke="#3a3a3a" stroke-width="3"/>
<line x1="926.5" y1="897.4" x2="947.1" y2="897.4" stroke="#3a3a3a" stroke-width="3"/>
<line x1="1005.4" y1="897.4" x2="1026.0" y2="897.4" stroke="#3a3a3a" stroke-width="3"/>
<line x1="1084.2" y1="897.4" x2="1104.8" y2="897.4" stroke="#3a3a3a" stroke-width="3"/>
</g>
<rect x="69.5" y="700.7" width="1025.1" height="196.7" fill="none" stroke="#262626" stroke-width="1.25"/>
<text class="dj e" x="64.6" y="709.5" font-size="19.44" fill="#000">60</text>
<text class="dj e" x="64.6" y="775" font-size="19.44" fill="#000">40</text>
<text class="dj e" x="64.6" y="840.5" font-size="19.44" fill="#000">20</text>
<text class="dj e" x="64.6" y="893.4" font-size="19.44" fill="#000">0</text>
<text class="dj m" transform="translate(69.5 927) scale(0.94 1)" font-size="25" fill="#5fd4e4">5%</text>
<text class="dj m" transform="translate(148.3 927) scale(0.94 1)" font-size="25" fill="#1a5fb4">80%</text>
<text class="dj m" transform="translate(227.2 927) scale(0.94 1)" font-size="25" fill="#1a5fb4">100%</text>
<text class="dj m" transform="translate(306.0 927) scale(0.94 1)" font-size="25" fill="#2f97d3">25%</text>
<text class="dj m" transform="translate(384.9 927) scale(0.94 1)" font-size="25" fill="#5fd4e4">0%</text>
<text class="dj m" transform="translate(463.7 927) scale(0.94 1)" font-size="25" fill="#5fd4e4">0%</text>
<text class="dj m" transform="translate(542.6 927) scale(0.94 1)" font-size="25" fill="#2f97d3">10%</text>
<text class="dj m" transform="translate(621.4 927) scale(0.94 1)" font-size="25" fill="#2f97d3">30%</text>
<text class="dj m" transform="translate(700.3 927) scale(0.94 1)" font-size="25" fill="#2f97d3">30%</text>
<text class="dj m" transform="translate(779.1 927) scale(0.94 1)" font-size="25" fill="#2f97d3">20%</text>
<text class="dj m" transform="translate(858.0 927) scale(0.94 1)" font-size="25" fill="#2f97d3">15%</text>
<text class="dj m" transform="translate(936.8 927) scale(0.94 1)" font-size="25" fill="#2f97d3">20%</text>
<text class="dj m" transform="translate(1015.7 927) scale(0.94 1)" font-size="25" fill="#2f97d3">15%</text>
<text class="dj m" transform="translate(1094.5 927) scale(0.94 1)" font-size="25" fill="#2f97d3">15%</text>
</svg></body></html>
